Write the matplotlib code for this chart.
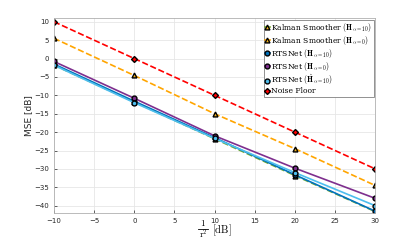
import numpy as np
import matplotlib.pyplot as plt
from matplotlib.lines import Line2D

plt.rcParams['mathtext.fontset'] = 'cm'

x = [-10, 0, 10, 20, 30]
noise_floor = [10, 0, -10, -20, -30]
ks_h10 = [-1.8, -11.8, -21.8, -31.8, -41.6]
ks_h0 = [5.5, -4.6, -15.0, -24.5, -34.5]
rts_h10 = [-1.5, -11.6, -21.5, -31.6, -41.5]
rts_h0 = [-0.8, -10.8, -21.0, -29.8, -38.0]
rts_hhat = [-1.8, -12.0, -21.7, -31.0, -40.0]

W, H = 415, 241
fig = plt.figure(figsize=(W / 100, H / 100), dpi=100)
ax = fig.add_axes([0.130, 0.116, 0.774, 0.809])

ax.plot(x, ks_h10, '--^', color='#77ac30', mfc='#edb120', mec='k', ms=3.5, lw=1.2,
        label=r'Kalman Smoother $(\mathbf{H}_{\alpha=10})$')
ax.plot(x, ks_h0, '--^', color='#ffa500', mfc='#edb120', mec='k', ms=3.5, lw=1.2,
        label=r'Kalman Smoother $(\mathbf{H}_{\alpha=0})$')
ax.plot(x, rts_h10, '-o', color='#0072bd', mfc='#0072bd', mec='k', ms=3.5, lw=1.2,
        label=r'RTSNet $(\mathbf{H}_{\alpha=10})$')
ax.plot(x, rts_h0, '-o', color='#7e2f8e', mfc='#7e2f8e', mec='k', ms=3.5, lw=1.2,
        label=r'RTSNet $(\mathbf{H}_{\alpha=0})$')
ax.plot(x, rts_hhat, '-o', color='#4dbeee', mfc='#4dbeee', mec='k', ms=3.5, lw=1.2,
        label=r'RTSNet $(\hat{\mathbf{H}}_{\alpha=10})$')
ax.plot(x, noise_floor, '--D', color='#ff0000', mfc='#ff0000', mec='k', ms=3, lw=1.2,
        label='Noise Floor')

ax.set_xlim(-10, 30)
ax.set_ylim(-42, 11)
ax.set_xticks([-10, -5, 0, 5, 10, 15, 20, 25, 30])
ax.set_yticks(np.arange(-40, 11, 5))
ax.grid(True, color='#e6e6e6', lw=0.6)
ax.tick_params(direction='in', labelsize=5, colors='#262626', length=2, width=0.5)
for s in ax.spines.values():
    s.set_color('#b0b0b0')
    s.set_linewidth(0.6)

# x label drawn as a stacked fraction: 1 / r^2 [dB]
fig.text(203 / W, 1 - 223.5 / H, r'$1$', fontsize=6.5, ha='center', va='center')
fig.add_artist(Line2D([198 / W, 208 / W], [1 - 228.5 / H, 1 - 228.5 / H],
                      color='k', lw=0.6, transform=fig.transFigure))
fig.text(203 / W, 1 - 234 / H, r'$\mathrm{r}^2$', fontsize=6.5, ha='center', va='center')
fig.text(211.5 / W, 1 - 230.5 / H, r'$[\mathrm{dB}]$', fontsize=7.5, ha='left', va='center')

ax.set_ylabel('MSE [dB]', fontsize=6.5, color='#262626', labelpad=1)

leg = ax.legend(loc='upper right', prop={'family': 'serif', 'size': 5.5},
                handlelength=0.6, handletextpad=0.2, borderpad=0.2, labelspacing=0.0,
                fancybox=False, framealpha=1, edgecolor='#808080', borderaxespad=0.2)
leg.get_frame().set_linewidth(0.6)
for h in leg.get_lines():
    h.set_linestyle('-')

fig.savefig('out.png', dpi=100)
